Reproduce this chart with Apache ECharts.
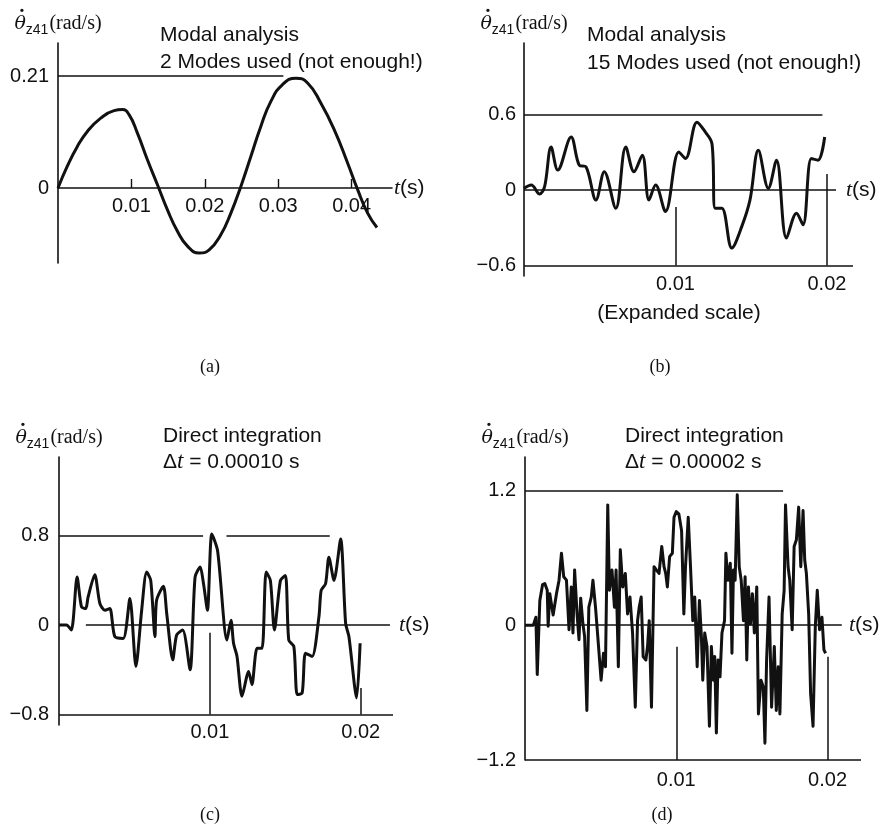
<!DOCTYPE html>
<html><head><meta charset="utf-8">
<script src="https://cdn.jsdelivr.net/npm/echarts@6/dist/echarts.min.js"></script>
<style>html,body{margin:0;padding:0;background:#fff}#c{width:883px;height:837px}</style>
</head><body><div id="c"></div>
<script>
// ---- Panel (a): 2 modes ----
const tA = [0, 0.00127, 0.00264, 0.004, 0.00582, 0.00764, 0.00877, 0.00968, 0.01082, 0.01218, 0.01355, 0.01491, 0.01627, 0.01764, 0.01923, 0.02059, 0.02218, 0.02355, 0.02491, 0.02627, 0.02764, 0.029, 0.03059, 0.03241, 0.034, 0.03582, 0.03764, 0.03945, 0.04082, 0.04218, 0.04345];
const vA = [0, 0.041, 0.078, 0.106, 0.131, 0.145, 0.147, 0.1375, 0.103, 0.053, 0.006, -0.041, -0.081, -0.109, -0.122, -0.116, -0.0875, -0.047, 0.003, 0.059, 0.116, 0.1625, 0.194, 0.206, 0.197, 0.159, 0.109, 0.047, -0.003, -0.047, -0.074];
// ---- Panel (b): 15 modes ----
const tB = [0, 0.00048, 0.00103, 0.00136, 0.00179, 0.00223, 0.00311, 0.00365, 0.00409, 0.00475, 0.0053, 0.00606, 0.00672, 0.00726, 0.00781, 0.00825, 0.00869, 0.00934, 0.01022, 0.01066, 0.01142, 0.01197, 0.01241, 0.01263, 0.01306, 0.01372, 0.01438, 0.01492, 0.01547, 0.01613, 0.01667, 0.01733, 0.01799, 0.01842, 0.01897, 0.01941, 0.01985];
const vB = [0.013, 0.039, -0.032, 0.026, 0.342, 0.158, 0.421, 0.197, 0.184, -0.079, 0.145, -0.145, 0.342, 0.145, 0.276, -0.079, 0.039, -0.171, 0.303, 0.25, 0.539, 0.461, 0.368, -0.145, -0.145, -0.461, -0.289, -0.079, 0.316, 0.013, 0.237, -0.382, -0.184, -0.276, 0.25, 0.237, 0.421];
// ---- Panel (c): direct integration, dt = 0.00010 s ----
const tC = [0, 0.00049, 0.00082, 0.0012, 0.00149, 0.00177, 0.00193, 0.00237, 0.00271, 0.00304, 0.00337, 0.0037, 0.00426, 0.0047, 0.0051, 0.00548, 0.00581, 0.00608, 0.00636, 0.00647, 0.00692, 0.00714, 0.00754, 0.0078, 0.0082, 0.00869, 0.00902, 0.00936, 0.00958, 0.00984, 0.01013, 0.01051, 0.01113, 0.0114, 0.01157, 0.0118, 0.01213, 0.01257, 0.01279, 0.01313, 0.01346, 0.01373, 0.01401, 0.01428, 0.01468, 0.01501, 0.01523, 0.01557, 0.01579, 0.01612, 0.01634, 0.01678, 0.01723, 0.01738, 0.01767, 0.01789, 0.01823, 0.01867, 0.019, 0.01922, 0.01973, 0.01996];
const vC = [0, 0, -0.044, 0.430, 0.163, 0.148, 0.252, 0.450, 0.193, 0.133, 0.148, -0.104, -0.119, 0.237, -0.370, 0.133, 0.474, 0.400, -0.104, 0.222, 0.347, 0.104, -0.311, -0.089, -0.044, -0.400, 0.430, 0.519, 0.370, 0.133, 0.815, 0.667, -0.133, 0.044, -0.163, -0.281, -0.637, -0.415, -0.533, -0.207, -0.207, 0.474, 0.400, -0.044, 0.400, 0.444, -0.133, -0.193, -0.622, -0.607, -0.252, -0.281, 0.074, 0.311, 0.370, 0.607, 0.400, 0.770, 0.015, -0.104, -0.652, -0.163];
// ---- Panel (d): direct integration, dt = 0.00002 s ----
const tD = [0, 0.00055, 0.00072, 0.00081, 0.00098, 0.00116, 0.00131, 0.00147, 0.00153, 0.00164, 0.00186, 0.00208, 0.00225, 0.00241, 0.00256, 0.00274, 0.00291, 0.00306, 0.00317, 0.00328, 0.00344, 0.00357, 0.00368, 0.00383, 0.00394, 0.00409, 0.00422, 0.00438, 0.00449, 0.00466, 0.00481, 0.00503, 0.00519, 0.00532, 0.00547, 0.00558, 0.00575, 0.00591, 0.00602, 0.00617, 0.0063, 0.00646, 0.00663, 0.00678, 0.00694, 0.00711, 0.00729, 0.00744, 0.00755, 0.00768, 0.00781, 0.00799, 0.0081, 0.00821, 0.00836, 0.00853, 0.00869, 0.00886, 0.00904, 0.00919, 0.0093, 0.00941, 0.00956, 0.00974, 0.00985, 0.01,
  0.01017, 0.01035, 0.0105, 0.01061, 0.01079, 0.01094, 0.01109, 0.01122, 0.01138, 0.01153, 0.01166, 0.01175, 0.01188, 0.01203, 0.01219, 0.01232, 0.01245, 0.01254, 0.01265, 0.01276, 0.01289, 0.01302, 0.01319, 0.01328, 0.01341, 0.01357, 0.01368, 0.01378, 0.01389, 0.01403, 0.01416, 0.01429, 0.01444, 0.01455, 0.01466, 0.01477, 0.0149, 0.01503, 0.01516, 0.01532, 0.01543, 0.0156, 0.01575, 0.01586, 0.01597, 0.01613, 0.0163, 0.01648, 0.01661, 0.01674, 0.01685, 0.017, 0.01713, 0.01722, 0.01739, 0.0175, 0.01766, 0.01779, 0.01794, 0.01809, 0.01823, 0.01838, 0.01849, 0.0186, 0.01875, 0.01888, 0.01904, 0.01919, 0.01932, 0.01947, 0.01963, 0.01976, 0.01987];
const vD = [0, 0, 0.07, -0.44, 0.22, 0.36, 0.37, 0.31, -0.01, 0.28, 0.09, 0.28, 0.40, 0.64, 0.43, 0.40, -0.04, 0.34, -0.07, 0.49, 0.10, -0.13, 0.24, 0.01, -0.10, -0.76, 0.16, 0.25, 0.40, 0.16, -0.10, -0.49, -0.25, -0.37, 1.07, 0.31, 0.49, 0.16, 0.49, -0.37, 0.67, 0.34, 0.46, 0.10, 0.25, -0.07, -0.73, 0.04, 0.16, 0.25, -0.28, -0.31, -0.19, 0.04, -0.73, 0.52, 0.49, 0.46, 0.70, 0.52, 0.46, 0.34, 0.61, 0.64, 0.96, 1.01,
  0.99, 0.84, 0.10, 0.52, 0.96, 0.52, 0.04, 0.25, -0.37, 0.22, -0.10, -0.49, -0.07, -0.19, -0.90, -0.19, -0.49, -0.28, -0.96, -0.31, -0.46, -0.07, 0.04, 0.64, 0.40, 0.55, -0.25, 0.49, 0.40, 1.16, 0.52, 0.40, 0.04, 0.43, -0.31, 0.34, 0.01, 0.28, -0.07, 0.34, -0.79, -0.49, -0.55, -1.05, -0.31, 0.25, -0.73, -0.19, -0.76, -0.37, -0.79, 0.10, 0.31, 1.07, 0.52, 0.40, -0.04, 0.70, 0.76, 1.05, 0.52, 1.02, 0.58, 0.46, 0.10, -0.61, -0.90, -0.01, 0.31, -0.04, 0.07, -0.22, -0.25];

// tick values
const xTicksA = [0.01, 0.02, 0.03, 0.04];
const xTicksB = [0.01, 0.02];
const xTicksC = [0.01, 0.02];
const xTicksD = [0.01, 0.02];
const yTicksA = [0, 0.21];
const yTicksB = [-0.6, 0, 0.6];
const yTicksC = [-0.8, 0, 0.8];
const yTicksD = [-1.2, 0, 1.2];

// guide lines in data coordinates [t1, v1, t2, v2]
const linesA = [[0, 0.21, 0.0307, 0.21]];
const linesB = [[0, 0.6, 0.0197, 0.6], [0, 0, 0.0206, 0], [0, -0.6, 0.02172, -0.6], [0.01, -0.6, 0.01, -0.135], [0.02, -0.6, 0.02, 0.127]];
const linesC = [[0, 0.8, 0.00955, 0.8], [0.0111, 0.8, 0.01795, 0.8], [0.00178, 0, 0.02194, 0], [0, -0.8, 0.02214, -0.8], [0.01, -0.8, 0.01, -0.069], [0.02, -0.8, 0.02, -0.563]];
const linesD = [[0, 1.2, 0.01706, 1.2], [0, 0, 0.02094, 0], [0, -1.2, 0.02221, -1.2], [0.01, -1.2, 0.01, -0.193], [0.02, -1.2, 0.02, -0.282]];

const INK = '#111';
const SANS = '"Liberation Sans", Arial, Helvetica, sans-serif';
const SERIF = '"Liberation Serif", "Times New Roman", serif';

const zip = (t, v) => t.map((x, i) => [x, v[i]]);
const fmt = v => v === 0 ? '0' : (v < 0 ? '\u2212' : '') + String(Math.abs(v));
const segs = L => L.map(s => [{coord: [s[0], s[1]]}, {coord: [s[2], s[3]]}]);

const grids = [
  {left: 58, top: 43, width: 334, height: 220},
  {left: 524, top: 43, width: 329, height: 233},
  {left: 59, top: 457, width: 334, height: 268},
  {left: 525, top: 457, width: 336, height: 303}
].map(g => Object.assign(g, {outerBoundsMode: 'none', containLabel: false}));

const xRange = [0.0455, 0.02172, 0.02214, 0.02221];
const yRange = [[-0.1406, 0.2719], [-0.6836, 1.1685], [-0.894, 1.504], [-1.2, 1.496]];
const xTicks = [xTicksA, xTicksB, xTicksC, xTicksD];
const yTicks = [yTicksA, yTicksB, yTicksC, yTicksD];
const xLabelMargin = [-67, -2, -3, 10];
const yLabelMargin = [9, 8, 10, 9];

const titleRich = {
  th: {fontFamily: '"DejaVu Serif", serif', fontStyle: 'italic', fontSize: 19, color: INK, lineHeight: 26},
  sub: {fontFamily: SANS, fontSize: 14, color: INK, verticalAlign: 'bottom', lineHeight: 26, padding: [0, 1, 0, 0]},
  u: {fontFamily: SERIF, fontSize: 20, color: INK, lineHeight: 26}
};

const xAxis = [0, 1, 2, 3].map(i => ({
  gridIndex: i, type: 'value', min: 0, max: xRange[i],
  axisLine: {show: i === 0, onZero: i === 0, lineStyle: {color: INK, width: 1.6}},
  axisTick: {show: i === 0, inside: true, length: 9, customValues: xTicks[i], lineStyle: {color: INK, width: 1.4}},
  axisLabel: {customValues: xTicks[i], formatter: fmt, margin: xLabelMargin[i], color: INK, fontFamily: SANS, fontSize: 20},
  splitLine: {show: false}
}));
const yAxis = [0, 1, 2, 3].map(i => ({
  gridIndex: i, type: 'value', min: yRange[i][0], max: yRange[i][1],
  axisLine: {show: true, onZero: false, lineStyle: {color: INK, width: 1.6}},
  axisTick: {show: false},
  axisLabel: {customValues: yTicks[i], formatter: fmt, margin: yLabelMargin[i], color: INK, fontFamily: SANS, fontSize: 20},
  splitLine: {show: false},
  name: '{th|\u03B8}{sub|z41}{u|(rad/s)}',
  nameLocation: 'end', nameGap: 6,
  nameTextStyle: {rich: titleRich, align: 'center', verticalAlign: 'bottom'}
}));

const allLines = [linesA, linesB, linesC, linesD];
const allData = [zip(tA, vA), zip(tB, vB), zip(tC, vC), zip(tD, vD)];
const smooth = [true, 0.35, 0.25, false];
const widths = [3, 3, 3, 3];

const series = [0, 1, 2, 3].map(i => ({
  type: 'line', xAxisIndex: i, yAxisIndex: i, data: allData[i],
  showSymbol: false, symbol: 'none', smooth: smooth[i], clip: false,
  lineStyle: {color: INK, width: widths[i], join: 'round'},
  markLine: {silent: true, symbol: ['none', 'none'], label: {show: false},
    lineStyle: {color: INK, width: 1.5, type: 'solid'}, data: segs(allLines[i])}
}));

const txt = (x, y, text, rich, align, va) => ({
  type: 'text', x: x, y: y, silent: true,
  style: {text: text, rich: rich, fill: INK, align: align || 'left', verticalAlign: va || 'middle',
    textAlign: align || 'left', textVerticalAlign: va || 'middle'}
});
const richAnn = {n: {fontFamily: SANS, fontSize: 21, color: INK}, t: {fontFamily: SERIF, fontStyle: 'italic', fontSize: 23, color: INK}};
const richTs = {t: {fontFamily: SERIF, fontStyle: 'italic', fontSize: 22, color: INK}, s: {fontFamily: SANS, fontSize: 21, color: INK}};
const richLab = {p: {fontFamily: SERIF, fontSize: 18, color: INK}};
const richDot = {d: {fontFamily: SERIF, fontSize: 22, fontWeight: 'bold', color: INK}};

const graphic = [
  txt(160, 35, '{n|Modal analysis}', richAnn),
  txt(160, 62, '{n|2 Modes used (not enough!)}', richAnn),
  txt(587, 35, '{n|Modal analysis}', richAnn),
  txt(587, 63, '{n|15 Modes used (not enough!)}', richAnn),
  txt(163, 436, '{n|Direct integration}', richAnn),
  txt(163, 462, '{n|\u0394}{t|t}{n| = 0.00010 s}', richAnn),
  txt(625, 436, '{n|Direct integration}', richAnn),
  txt(625, 462, '{n|\u0394}{t|t}{n| = 0.00002 s}', richAnn),
  txt(679, 313, '{n|(Expanded scale)}', richAnn, 'center'),
  txt(394, 188, '{t|t}{s|(s)}', richTs),
  txt(846, 190, '{t|t}{s|(s)}', richTs),
  txt(399, 625, '{t|t}{s|(s)}', richTs),
  txt(849, 625, '{t|t}{s|(s)}', richTs),
  txt(210, 367, '{p|(a)}', richLab, 'center'),
  txt(660, 367, '{p|(b)}', richLab, 'center'),
  txt(210, 815, '{p|(c)}', richLab, 'center'),
  txt(662, 815, '{p|(d)}', richLab, 'center'),
  // dot accents over theta
  txt(22, 7, '{d|\u02D9}', richDot, 'center', 'top'),
  txt(488, 7, '{d|\u02D9}', richDot, 'center', 'top'),
  txt(23, 421, '{d|\u02D9}', richDot, 'center', 'top'),
  txt(489, 421, '{d|\u02D9}', richDot, 'center', 'top')
];

const chart = echarts.init(document.getElementById('c'), null, {renderer: 'canvas'});
chart.setOption({
  backgroundColor: '#fff', animation: false,
  grid: grids, xAxis: xAxis, yAxis: yAxis, series: series, graphic: graphic
});
</script></body></html>
